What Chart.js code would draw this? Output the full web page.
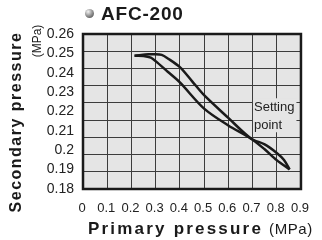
<!DOCTYPE html>
<html>
<head>
<meta charset="utf-8">
<script src="https://cdn.jsdelivr.net/npm/chart.js@4/dist/chart.umd.min.js"></script>
<style>
  body { margin: 0; background: #fff; }
  #wrap { position: relative; width: 322px; height: 240px; font-family: 'Liberation Sans', Arial, sans-serif; color: #1a1a1a; }
  canvas { position: absolute; left: 0; top: 0; }
  .lbl { position: absolute; white-space: nowrap; }
  #title { left: 85px; top: 4px; font-weight: bold; font-size: 19px; letter-spacing: 0.8px; line-height: 19px; }
  #title .dot { display: inline-block; width: 9px; height: 9px; border-radius: 50%; margin-right: 7px; vertical-align: 2px;
    background: radial-gradient(circle at 35% 30%, #f4f4f4 0%, #9a9a9a 45%, #3a3a3a 100%); }
  #ytitle { left: 16px; top: 122px; font-weight: bold; font-size: 16px; letter-spacing: 1.5px; transform: translate(-50%, -50%) rotate(-90deg); }
  #yunit { left: 37px; top: 41px; font-size: 12px; transform: translate(-50%, -50%) rotate(-90deg); }
  #xtitle { left: 88px; top: 219px; font-size: 17px; line-height: 19px; }
  #xtitle b { letter-spacing: 2.2px; }
  #xtitle span { font-size: 15px; letter-spacing: 0.6px; margin-left: 6px; }
</style>
</head>
<body>
<div id="wrap">
  <canvas id="chart" width="322" height="240"></canvas>
  <div class="lbl" id="title"><span class="dot"></span>AFC-200</div>
  <div class="lbl" id="ytitle">Secondary pressure</div>
  <div class="lbl" id="yunit">(MPa)</div>
  <div class="lbl" id="xtitle"><b>Primary pressure</b><span>(MPa)</span></div>
</div>
<script>
// Axis ticks
const xTickLabels = ['0', '0.1', '0.2', '0.3', '0.4', '0.5', '0.6', '0.7', '0.8', '0.9'];
const yTickLabels = ['0.18', '0.19', '0.2', '0.21', '0.22', '0.23', '0.24', '0.25', '0.26'];

// Upper branch of the loop (flat top, then descending)
const upperX = [0.213, 0.24, 0.27, 0.30, 0.325, 0.35, 0.40, 0.45, 0.50, 0.60, 0.693, 0.75, 0.80, 0.83, 0.853];
const upperY = [0.2488, 0.2492, 0.2495, 0.2496, 0.2492, 0.2474, 0.2429, 0.2357, 0.2284, 0.2167, 0.2061, 0.2030, 0.1986, 0.1950, 0.1901];

// Lower branch of the loop
const lowerX = [0.213, 0.25, 0.28, 0.30, 0.35, 0.40, 0.50, 0.60, 0.693, 0.75, 0.80, 0.853];
const lowerY = [0.2488, 0.2487, 0.2478, 0.2460, 0.2405, 0.2350, 0.2215, 0.2128, 0.2061, 0.2005, 0.1949, 0.1901];

// Annotation
const noteLines = ['Setting', 'point'];
const noteAt = { x: 0.706, y: 0.2258 };

const plotBg = '#e5e5e5';
const inkColor = '#1a1a1a';

const toPoints = (xs, ys) => xs.map((x, i) => ({ x: x, y: ys[i] }));

// Fill the plot area and draw the heavy frame
const plotFrame = {
    id: 'plotFrame',
    beforeDraw(chart) {
        const { ctx, chartArea: a } = chart;
        ctx.save();
        ctx.fillStyle = plotBg;
        ctx.fillRect(a.left, a.top, a.right - a.left, a.bottom - a.top);
        ctx.restore();
    },
    beforeDatasetsDraw(chart) {
        // "Setting point" note with a box that hides the grid behind it
        const { ctx, scales } = chart;
        const px = scales.x.getPixelForValue(noteAt.x);
        const py = scales.y.getPixelForValue(noteAt.y);
        ctx.save();
        ctx.font = "13px 'Liberation Sans', Arial, sans-serif";
        const w = Math.max(...noteLines.map(t => ctx.measureText(t).width));
        ctx.fillStyle = plotBg;
        ctx.fillRect(px - 1, py - 2, w + 3, 34);
        ctx.fillStyle = '#222';
        ctx.textBaseline = 'alphabetic';
        noteLines.forEach((t, i) => ctx.fillText(t, px, py + 11 + i * 17.5));
        ctx.restore();
    },
    afterDraw(chart) {
        const { ctx, chartArea: a } = chart;
        ctx.save();
        ctx.strokeStyle = inkColor;
        ctx.lineWidth = 2.5;
        ctx.strokeRect(a.left, a.top, a.right - a.left, a.bottom - a.top);
        ctx.restore();
    }
};

const ctx = document.getElementById('chart').getContext('2d');
Chart.defaults.font.family = "'Liberation Sans', Arial, sans-serif";
Chart.defaults.color = '#222';

new Chart(ctx, {
    type: 'scatter',
    data: {
        datasets: [{
            data: toPoints(upperX, upperY),
            showLine: true,
            borderColor: inkColor,
            borderWidth: 2.5,
            pointRadius: 0,
            tension: 0.3
        }, {
            data: toPoints(lowerX, lowerY),
            showLine: true,
            borderColor: inkColor,
            borderWidth: 2.5,
            pointRadius: 0,
            tension: 0.3
        }]
    },
    options: {
        responsive: false,
        animation: false,
        layout: { padding: { top: 34, right: 13, left: 0, bottom: 0 } },
        plugins: {
            legend: { display: false },
            tooltip: { enabled: false }
        },
        scales: {
            x: {
                type: 'linear',
                min: 0,
                max: 0.9,
                afterFit: (s) => { s.height = 51; },
                ticks: {
                    stepSize: 0.1,
                    padding: 12,
                    labelOffset: -1,
                    maxRotation: 0,
                    autoSkip: false,
                    font: { size: 13 },
                    callback: (v, i) => xTickLabels[i]
                },
                grid: { color: '#3c3c3c', lineWidth: 1, drawTicks: false },
                border: { display: false }
            },
            y: {
                min: 0.18,
                max: 0.26,
                afterFit: (s) => { s.width = 83; },
                ticks: {
                    stepSize: 0.01,
                    padding: 9,
                    autoSkip: false,
                    font: { size: 14 },
                    callback: (v, i) => yTickLabels[i]
                },
                grid: { display: false, drawTicks: false },
                border: { display: false }
            },
            // the printed grid has nine rows, independent of the labels
            yGrid: {
                position: 'left',
                min: 0,
                max: 9,
                afterFit: (s) => { s.width = 0; },
                ticks: { display: false, stepSize: 1 },
                grid: { color: '#3c3c3c', lineWidth: 1, drawTicks: false },
                border: { display: false }
            }
        }
    },
    plugins: [plotFrame]
});
</script>
</body>
</html>
